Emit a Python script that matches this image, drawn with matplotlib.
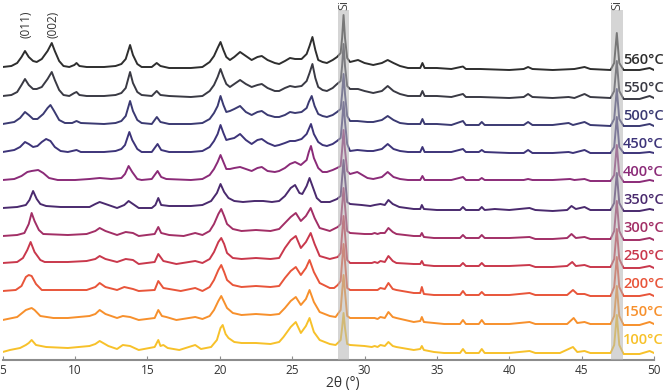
import matplotlib
matplotlib.use('Agg')
import matplotlib.pyplot as plt
import matplotlib.transforms as mtransforms

plt.rcParams['font.family'] = ['Open Sans', 'DejaVu Sans']

# (2theta, intensity), arbitrary units
p560 = [(5.0, 1), (5.6, 2), (6.0, 5), (6.3, 11), (6.54, 17), (6.8, 11), (7.1, 7), (7.35, 6), (7.7, 9), (8.1, 17), (8.39, 25),
        (8.6, 17), (8.9, 7), (9.2, 2), (9.6, 1), (9.95, 3), (10.1, 5), (10.3, 2), (10.8, 1), (12.0, 1), (12.8, 2), (13.2, 4),
        (13.5, 9), (13.8, 23), (14.0, 13), (14.3, 4), (14.6, 1), (15.3, 1), (15.64, 5), (15.9, 2), (16.5, 0), (18.0, 0),
        (18.8, 1), (19.3, 6), (19.6, 12), (19.85, 20), (20.05, 26), (20.25, 18), (20.45, 11), (20.7, 8), (21.0, 11),
        (21.4, 16), (21.8, 12), (22.2, 8), (22.6, 11), (22.9, 12), (23.3, 8), (23.8, 5), (24.1, 4), (24.5, 7), (24.85, 10),
        (25.2, 9), (25.65, 9), (26.0, 14), (26.2, 22), (26.4, 31), (26.6, 18), (26.8, 8), (27.1, 6), (27.4, 5), (27.8, 8),
        (28.1, 11), (28.35, 15), (28.45, 30), (28.55, 53), (28.65, 30), (28.8, 10), (29.0, 6), (29.55, 8), (30.0, 5),
        (30.6, 3), (31.2, 5), (31.6, 8), (32.0, 5), (32.45, 2), (33.0, 0), (33.85, 0), (34.0, 5), (34.15, 0), (35.0, 0),
        (36.0, -1), (36.8, 1.5), (37.0, -1), (38.0, -1), (40.0, -2), (41.0, -1), (41.3, 1), (41.6, -1), (43.0, -2),
        (44.5, -1), (45.2, 1), (45.6, -1), (47.0, -2), (47.25, 5), (47.43, 35), (47.6, 5), (47.9, -2), (49.0, -2),
        (49.7, 0), (50.0, -2)]
p550 = [(5.0, 0), (5.6, 1), (6.0, 4), (6.3, 11), (6.54, 17), (6.8, 11), (7.1, 7), (7.35, 7), (7.7, 9), (8.1, 17), (8.39, 24),
        (8.6, 16), (8.9, 6), (9.2, 1), (9.6, 0), (9.95, 3), (10.1, 4), (10.3, 1), (10.8, 0), (12.0, 0), (12.8, 1), (13.2, 3),
        (13.5, 8), (13.8, 24), (14.0, 13), (14.3, 4), (14.6, 1), (15.3, 0), (15.64, 5), (15.9, 1), (16.5, 0), (18.0, -1),
        (18.8, 0), (19.3, 5), (19.6, 11), (19.85, 19), (20.05, 27), (20.25, 19), (20.45, 12), (20.7, 9), (21.0, 12),
        (21.4, 16), (21.8, 12), (22.2, 9), (22.6, 11), (22.9, 12), (23.3, 8), (23.8, 5), (24.1, 5), (24.5, 8), (24.85, 10),
        (25.2, 9), (25.65, 10), (26.0, 15), (26.2, 23), (26.4, 32), (26.6, 18), (26.8, 9), (27.1, 6), (27.4, 5), (27.8, 8),
        (28.1, 12), (28.35, 15), (28.45, 30), (28.55, 52), (28.65, 30), (28.8, 10), (29.0, 7), (29.55, 7), (30.0, 5),
        (30.6, 3), (31.2, 5), (31.6, 10), (32.0, 5), (32.45, 2), (33.0, 0), (33.85, 0), (34.0, 5), (34.15, 0), (35.0, 0),
        (36.0, -1), (36.8, 2), (37.0, -1), (38.0, -1), (40.0, -2), (41.0, -1), (41.3, 2), (41.6, -1), (43.0, -2),
        (44.1, -1), (44.5, -2), (45.2, 2), (45.6, -1), (47.0, -2), (47.25, 5), (47.43, 35), (47.6, 5), (47.9, -3),
        (49.0, -3), (49.7, 0), (50.0, -2)]
p500 = [(5.0, 0), (5.8, 2), (6.2, 6), (6.54, 12), (6.8, 9), (7.1, 5), (7.4, 5), (7.8, 10), (8.1, 16), (8.3, 19), (8.55, 13),
        (8.9, 4), (9.3, 1), (9.8, 1), (10.1, 3), (10.4, 1), (12.0, 0), (12.8, 1), (13.2, 3), (13.5, 8), (13.8, 23), (14.0, 13),
        (14.3, 4), (14.6, 1), (15.3, 0), (15.65, 7), (15.9, 2), (16.5, 0), (18.0, 0), (18.8, 1), (19.3, 5), (19.6, 11),
        (19.85, 18), (20.05, 28), (20.25, 19), (20.45, 12), (20.7, 13), (21.0, 15), (21.4, 18), (21.8, 12), (22.2, 9),
        (22.6, 12), (22.9, 13), (23.3, 9), (23.8, 7), (24.1, 7), (24.5, 9), (24.85, 12), (25.2, 11), (25.65, 12), (26.0, 16),
        (26.15, 22), (26.35, 28), (26.55, 18), (26.8, 10), (27.1, 8), (27.4, 7), (27.8, 9), (28.1, 12), (28.35, 15),
        (28.45, 30), (28.55, 50), (28.65, 30), (28.8, 8), (29.0, 3), (29.5, 3), (30.2, 2), (30.6, 2), (31.2, 4), (31.6, 8),
        (32.0, 4), (32.45, 1), (33.0, 0), (33.85, 0), (34.0, 5), (34.15, 0), (35.0, 0), (36.0, -1), (36.8, 3), (37.0, -1),
        (37.9, -1), (38.1, 2), (38.3, -1), (40.0, -1), (41.0, -1), (41.3, 2), (41.6, -1), (43.0, -1), (44.1, 1), (44.4, -1),
        (45.2, 2), (45.6, -1), (47.0, -2), (47.25, 5), (47.43, 35), (47.6, 5), (47.9, -2), (49.0, -2), (49.7, 0), (50.0, -2)]
p450 = [(5.0, 0), (5.8, 2), (6.2, 5), (6.54, 10), (6.8, 8), (7.1, 5), (7.4, 6), (7.7, 10), (8.0, 13), (8.3, 11), (8.6, 5),
        (9.0, 1), (9.5, 0), (10.1, 2), (10.4, 0), (12.0, 0), (12.8, 1), (13.2, 3), (13.45, 7), (13.75, 20), (13.95, 12),
        (14.3, 3), (14.6, 0), (15.3, 0), (15.7, 8), (15.95, 2), (16.5, 0), (18.0, 0), (18.8, 1), (19.3, 5), (19.6, 11),
        (19.85, 18), (20.05, 27), (20.25, 19), (20.45, 12), (20.7, 13), (21.0, 14), (21.4, 18), (21.8, 12), (22.2, 8),
        (22.6, 12), (22.9, 13), (23.3, 9), (23.8, 6), (24.1, 7), (24.5, 9), (24.85, 11), (25.2, 11), (25.65, 13), (26.0, 18),
        (26.15, 23), (26.3, 28), (26.5, 18), (26.8, 10), (27.1, 7), (27.4, 6), (27.8, 8), (28.1, 11), (28.35, 14),
        (28.45, 30), (28.55, 50), (28.65, 30), (28.8, 8), (29.0, 1), (29.5, 2), (30.2, 1), (30.6, 1), (31.2, 3), (31.6, 8),
        (32.0, 3), (32.45, 1), (33.0, 0), (33.85, 0), (34.0, 5), (34.15, 0), (35.0, 0), (36.0, 0), (36.8, 3), (37.0, 0),
        (37.9, 0), (38.1, 2), (38.3, 0), (40.0, -1), (41.0, -1), (41.3, 2), (41.6, -1), (43.0, -1), (44.1, 0), (44.4, -1),
        (45.2, 2), (45.6, -1), (47.0, -1), (47.25, 5), (47.43, 35), (47.6, 5), (47.9, -1), (49.0, -1), (49.7, 0), (50.0, -1)]
p400 = [(5.0, 0), (5.8, 1), (6.3, 4), (6.7, 8), (7.0, 9), (7.45, 10), (7.8, 7), (8.2, 2), (8.8, 0), (10.0, 0), (11.0, 1),
        (11.7, 2), (12.5, 1), (13.2, 2), (13.45, 6), (13.7, 14), (13.95, 8), (14.3, 1), (14.6, 0), (15.3, 1), (15.7, 9),
        (15.95, 3), (16.3, 1), (18.0, 0), (18.8, 1), (19.3, 5), (19.6, 11), (19.85, 18), (20.05, 25), (20.25, 18),
        (20.45, 11), (20.7, 11), (21.0, 12), (21.4, 13), (21.8, 11), (22.2, 9), (22.6, 12), (22.9, 13), (23.3, 9), (23.8, 8),
        (24.1, 9), (24.5, 12), (24.85, 16), (25.2, 18), (25.6, 15), (26.0, 20), (26.15, 28), (26.3, 34), (26.5, 22),
        (26.8, 12), (27.1, 8), (27.4, 8), (27.8, 10), (28.1, 12), (28.35, 14), (28.45, 30), (28.55, 50), (28.65, 30),
        (28.8, 9), (29.0, 6), (29.5, 8), (30.2, 2), (30.6, 1), (31.2, 3), (31.6, 8), (32.0, 3), (32.45, 1), (33.0, 0),
        (33.85, 0), (34.0, 4), (34.15, 0), (35.0, 0), (36.0, 0), (36.8, 3), (37.0, 0), (37.9, 0), (38.1, 2), (38.3, 0),
        (40.0, 0), (41.0, 0), (41.3, 1), (41.6, 0), (43.0, 0), (44.2, 1), (44.5, 0), (45.2, 1), (45.6, -1), (47.0, -1),
        (47.25, 5), (47.43, 35), (47.6, 5), (47.9, -2), (49.0, -2), (49.7, 0), (50.0, -1)]
p350 = [(5.0, 0), (6.0, 1), (6.6, 3), (6.85, 8), (7.1, 17), (7.35, 9), (7.6, 4), (8.0, 2), (9.0, 1), (11.0, 1), (11.4, 4),
        (11.7, 6), (12.1, 4), (12.9, 0), (13.4, 3), (13.7, 7), (14.0, 4), (14.4, 0), (15.3, 0), (15.55, 3), (15.75, 10),
        (15.95, 3), (16.5, 2), (18.0, 2), (18.8, 3), (19.4, 7), (19.8, 15), (20.05, 24), (20.3, 16), (20.6, 10), (21.0, 7),
        (21.6, 6), (22.4, 7), (23.0, 7), (23.6, 6), (24.1, 7), (24.5, 12), (24.9, 20), (25.2, 23), (25.5, 15), (25.7, 14),
        (26.0, 22), (26.2, 30), (26.4, 22), (26.7, 10), (27.0, 6), (27.6, 6), (28.1, 9), (28.35, 12), (28.45, 30),
        (28.55, 48), (28.65, 30), (28.8, 6), (29.0, 4), (29.8, 3), (30.4, 2), (30.7, 3), (31.1, 4), (31.4, 3), (31.65, 8),
        (31.95, 4), (32.4, 1), (33.4, -1), (33.85, -1), (33.96, 3), (34.1, -1), (35.0, -2), (36.6, -2), (36.8, 1),
        (37.0, -2), (37.9, -2), (38.1, 1), (38.3, -2), (39.0, -1), (40.0, -2), (41.4, 0), (41.8, -2), (43.0, -3),
        (44.0, -2), (44.3, 2), (44.6, -1), (45.2, 1), (45.6, -2), (47.0, -2), (47.25, 5), (47.43, 35), (47.6, 5),
        (47.9, -3), (49.0, -3), (49.7, -1), (50.0, -2)]
p300 = [(5.0, 0), (6.0, 1), (6.5, 3), (6.8, 12), (7.0, 23), (7.2, 15), (7.5, 6), (7.8, 2), (9.5, 1), (10.8, 2), (11.4, 5),
        (11.7, 8), (12.1, 5), (12.9, 1), (13.5, 4), (14.0, 3), (14.4, 0), (15.5, 2), (15.75, 9), (15.95, 3), (16.5, 1),
        (17.5, 0), (18.3, 3), (18.8, 1), (19.3, 5), (19.6, 12), (19.9, 22), (20.1, 27), (20.3, 20), (20.5, 12), (20.9, 7),
        (21.5, 5), (22.5, 6), (23.5, 5), (24.1, 7), (24.5, 13), (24.9, 19), (25.25, 23), (25.6, 15), (25.95, 20),
        (26.28, 28), (26.55, 18), (26.9, 8), (27.6, 5), (28.15, 9), (28.35, 12), (28.45, 30), (28.55, 48), (28.65, 30),
        (28.8, 5), (29.0, 3), (30.0, 2), (30.5, 2), (30.7, 3), (30.9, 2), (31.1, 3), (31.4, 3), (31.65, 8), (31.95, 4),
        (32.2, 2), (33.4, 0), (33.85, 0), (33.96, 3), (34.1, -1), (34.8, -2), (35.5, -2), (36.6, -2), (36.8, 1), (37.0, -2),
        (37.9, -2), (38.1, 1), (38.3, -2), (40.0, -2), (41.4, -1), (41.8, -3), (43.0, -3), (44.0, -2), (44.3, 2),
        (44.6, -2), (45.2, -1), (45.6, -3), (47.0, -3), (47.25, 5), (47.43, 35), (47.6, 5), (47.9, -4), (49.0, -4),
        (49.7, -2), (50.0, -4)]
p250 = [(5.0, 1), (6.0, 2), (6.4, 6), (6.7, 14), (6.93, 22), (7.2, 12), (7.6, 4), (7.9, 2), (9.5, 2), (10.8, 3), (11.4, 5),
        (11.7, 8), (12.1, 5), (12.9, 2), (13.5, 5), (14.0, 4), (14.4, 0), (15.5, 2), (15.75, 10), (16.1, 3), (17.0, 0),
        (18.3, 3), (18.8, 1), (19.3, 5), (19.6, 12), (19.9, 22), (20.1, 26), (20.3, 20), (20.5, 11), (20.9, 6), (21.5, 5),
        (22.5, 6), (23.5, 5), (24.1, 6), (24.5, 16), (24.9, 24), (25.25, 28), (25.6, 16), (25.95, 22), (26.28, 31),
        (26.55, 20), (26.9, 8), (27.6, 5), (28.15, 7), (28.35, 11), (28.45, 30), (28.55, 48), (28.65, 30), (28.8, 4),
        (29.0, 1), (30.0, 1), (30.5, 1), (30.7, 2), (30.9, 1), (31.1, 3), (31.4, 2), (31.65, 8), (31.95, 3), (32.2, 1),
        (33.4, 0), (33.85, 0), (33.96, 3), (34.1, -1), (34.8, -2), (35.5, -2), (36.6, -2), (36.8, 1), (37.0, -2),
        (37.9, -2), (38.1, 1), (38.3, -2), (40.0, -2), (41.4, -1), (41.8, -3), (43.0, -3), (44.0, -2), (44.35, 2),
        (44.6, -2), (45.2, -1), (45.6, -3), (47.0, -3), (47.25, 5), (47.43, 35), (47.6, 5), (47.9, -4), (49.0, -4),
        (49.7, -2), (50.0, -4)]
p200 = [(5.0, 1), (5.9, 2), (6.3, 6), (6.6, 15), (6.8, 17), (7.0, 16), (7.3, 8), (7.7, 2), (9.5, 2), (10.8, 2), (11.4, 5),
        (11.7, 9), (12.1, 5), (12.9, 2), (13.4, 5), (14.0, 3), (14.4, 1), (15.5, 2), (15.75, 11), (16.1, 4), (17.3, 1),
        (18.3, 4), (18.8, 1), (19.3, 5), (19.6, 12), (19.9, 22), (20.1, 27), (20.3, 20), (20.5, 12), (20.9, 7), (21.5, 5),
        (22.5, 6), (23.5, 5), (24.1, 6), (24.5, 14), (24.9, 21), (25.25, 25), (25.6, 17), (25.95, 24), (26.2, 32),
        (26.5, 20), (26.9, 9), (27.6, 4), (27.9, 4), (28.15, 7), (28.35, 11), (28.45, 30), (28.55, 48), (28.65, 30),
        (28.8, 4), (29.0, 2), (30.0, 2), (30.7, 2), (30.9, 2), (31.1, 4), (31.4, 3), (31.65, 9), (31.95, 3), (32.2, 2),
        (33.4, -1), (33.85, -1), (33.96, 5), (34.1, -2), (34.8, -3), (35.5, -3), (36.6, -3), (36.8, 1), (37.0, -3),
        (37.9, -3), (38.1, 0), (38.3, -3), (40.0, -3), (41.4, -1), (41.8, -3), (43.0, -3), (44.0, -3), (44.4, 2),
        (44.7, -2), (45.2, -2), (45.6, -4), (47.0, -4), (47.25, 5), (47.43, 35), (47.6, 5), (47.9, -4), (49.0, -4),
        (49.7, -2), (50.0, -4)]
p150 = [(5.0, 0), (6.0, 3), (6.6, 10), (7.0, 12), (7.2, 10), (7.6, 4), (8.5, 2), (9.5, 2), (11.0, 4), (11.4, 6), (11.7, 10),
        (12.1, 6), (12.9, 2), (13.3, 4), (13.8, 3), (14.4, 0), (15.5, 2), (15.75, 10), (16.0, 4), (16.3, 3), (17.0, 0),
        (18.3, 3), (18.8, 1), (19.3, 4), (19.6, 10), (19.9, 19), (20.1, 24), (20.3, 18), (20.5, 12), (20.9, 7), (21.5, 5),
        (22.5, 6), (23.5, 5), (24.1, 6), (24.5, 12), (24.9, 19), (25.25, 23), (25.6, 15), (25.95, 21), (26.2, 30),
        (26.5, 18), (26.9, 8), (27.6, 4), (28.0, 3), (28.15, 6), (28.35, 10), (28.45, 28), (28.55, 45), (28.65, 28),
        (28.8, 4), (29.0, 2), (30.0, 2), (30.7, 2), (30.9, 1), (31.1, 3), (31.4, 2), (31.65, 8), (31.95, 3), (32.2, 2),
        (33.4, -2), (33.85, -1), (33.96, 3), (34.1, -2), (34.8, -3), (35.5, -4), (36.6, -4), (36.8, 0), (37.0, -4),
        (37.9, -4), (38.1, 0), (38.3, -4), (40.0, -4), (41.4, -2), (41.8, -4), (43.0, -4), (44.0, -4), (44.45, 2),
        (44.7, -3), (45.2, -2), (45.6, -4), (47.0, -4), (47.25, 4), (47.43, 34), (47.6, 4), (47.9, -5), (49.0, -5),
        (49.7, -2), (50.0, -4)]
p100 = [(5.0, -4), (5.5, -2), (6.2, 0), (6.6, 3), (6.8, 5), (7.0, 8), (7.3, 3), (8.0, 1), (9.5, 0), (11.0, 2), (11.4, 4),
        (11.7, 7), (12.3, 2), (12.9, -1), (13.3, 3), (13.8, 2), (14.4, -2), (15.5, 1), (15.75, 8), (15.9, 2), (16.1, 3),
        (16.4, 0), (17.2, -2), (18.3, 3), (18.7, -1), (19.4, 1), (19.8, 8), (20.05, 20), (20.2, 23), (20.4, 14), (20.6, 10),
        (21.0, 6), (21.5, 5), (22.5, 5), (23.5, 4), (24.1, 6), (24.4, 11), (24.9, 21), (25.25, 26), (25.6, 15), (25.95, 22),
        (26.2, 30), (26.5, 16), (26.9, 8), (27.6, 4), (28.0, 3), (28.15, 5), (28.35, 8), (28.45, 20), (28.55, 35),
        (28.65, 20), (28.8, 4), (29.0, 3), (30.0, 2), (30.5, 1), (30.7, 2), (30.9, 1), (31.1, 3), (31.4, 2), (31.65, 6),
        (31.95, 2), (32.2, 1), (33.4, -2), (33.85, -1), (33.96, 2), (34.1, -2), (34.8, -4), (35.5, -5), (36.6, -5),
        (36.8, -1), (37.0, -5), (37.9, -5), (38.1, -1), (38.3, -5), (40.0, -5), (41.4, -3), (41.8, -5), (43.5, -5),
        (44.4, 1), (44.7, -4), (45.2, -3), (45.6, -5), (47.0, -5), (47.25, 3), (47.43, 33), (47.6, 3), (47.9, -6),
        (49.0, -6), (49.7, -3), (50.0, -5)]

temps = ['100°C', '150°C', '200°C', '250°C', '300°C', '350°C', '400°C', '450°C', '500°C', '550°C', '560°C']
patterns = [p100, p150, p200, p250, p300, p350, p400, p450, p500, p550, p560]
colors = ['#f7c12a', '#f7902c', '#e8553a', '#c9384c', '#a22f66', '#4a2a6e', '#8b2b78',
          '#3d3479', '#3b3a72', '#3a3a44', '#2e2e2e']
si_peaks = [28.55, 47.43]

fig = plt.figure(figsize=(6.66, 3.92), dpi=100)
ax = fig.add_axes([2.7 / 666, 1 - 360 / 392, 651.3 / 666, 350 / 392])

step = 28
for i, (p, c, t) in enumerate(zip(patterns, colors, temps)):
    x = [a for a, b in p]
    y = [b + i * step for a, b in p]
    ax.plot(x, y, color=c, lw=1.4, zorder=2)
    ax.text(47.85, i * step + 8, t, color=c, fontsize=10.5, fontweight='semibold',
            ha='left', va='center', clip_on=False)

trans = mtransforms.blended_transform_factory(ax.transData, ax.transAxes)
for s in si_peaks:
    ax.axvspan(s - 0.4, s + 0.4, color='#b4b4b4', alpha=0.55, lw=0, zorder=3)
    ax.text(s, 1.0, 'Si', transform=trans, rotation=90, ha='center', va='bottom',
            fontsize=9, color='#444444', clip_on=False)

ax.text(6.6, 310, '(011)', rotation=90, ha='center', va='bottom', fontsize=8.5, color='#333333')
ax.text(8.45, 310, '(002)', rotation=90, ha='center', va='bottom', fontsize=8.5, color='#333333')

ax.set_xlim(5, 50)
ax.set_ylim(-12, 338)
ax.set_xticks(range(5, 51, 5))
ax.set_yticks([])
for sp in ['left', 'right', 'top']:
    ax.spines[sp].set_visible(False)
ax.spines['bottom'].set_color('#8c8c8c')
ax.spines['bottom'].set_linewidth(1.5)
ax.tick_params(axis='x', direction='in', length=3, color='#8c8c8c', labelsize=8.5,
               labelcolor='#333333', pad=3)
fig.text(343 / 666, 1 - 384 / 392, '2θ (°)', ha='center', va='center', fontsize=10, color='#333333')

fig.savefig('out.png', dpi=100)
